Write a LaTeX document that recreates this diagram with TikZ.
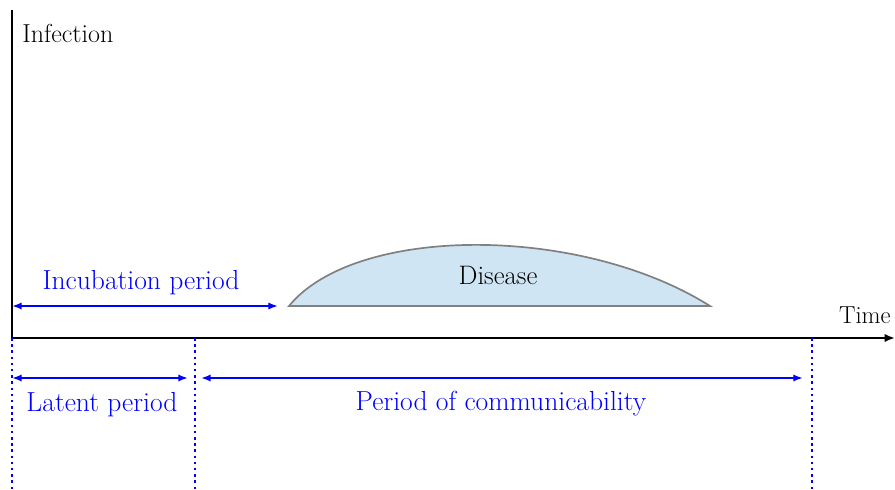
\documentclass[tikz,border=0pt]{standalone}
\usetikzlibrary{arrows.meta,positioning,calc}
\definecolor{Span}{HTML}{0000FF}
\definecolor{DiseaseFill}{HTML}{D0E5F3}
\definecolor{DiseaseLine}{HTML}{808080}
\tikzset{
  axis/.style={draw=black,line width=1.5pt},
  axisarrow/.style={axis,-{Latex[length=2.6mm,width=2.1mm]}},
  span/.style={{Latex[length=2.4mm,width=1.8mm]}-{Latex[length=2.4mm,width=1.8mm]},draw=Span,line width=1.4pt},
  guide/.style={draw=Span,line width=1.5pt,dash pattern=on 1.8pt off 2.6pt},
  axislabel/.style={font=\fontsize{18.5}{20}\selectfont,text=black,inner sep=0pt},
  spanlabel/.style={font=\fontsize{19.6}{22}\selectfont,text=Span,inner sep=0pt},
  disease/.style={draw=DiseaseLine,fill=DiseaseFill,line width=1.2pt}
}
\begin{document}
\begin{tikzpicture}[x=0.025cm,y=-0.025cm]
  \useasboundingbox (0,0) rectangle (895,489);

  % axes
  \coordinate (origin) at (12,338);
  \coordinate (ytop) at (12,10);
  \coordinate (xend) at (895,338);
  \draw[axis] (ytop) -- (origin);
  \draw[axisarrow] (origin) -- (xend);
  \node[axislabel,anchor=west] (infection) at (22,33) {Infection};
  \node[axislabel,anchor=east,font=\fontsize{17.5}{19}\selectfont] (time) at (891,315) {Time};

  % disease curve
  \coordinate (dleft) at (289,306);
  \coordinate (dright) at (710,306);
  \draw[disease] (dleft) .. controls (355,225) and (580,224) .. (dright) -- cycle;
  \node[axislabel,font=\fontsize{19}{20}\selectfont] (disease) at (498,275) {Disease};

  % guides
  \coordinate (g0) at (12,338);   \coordinate (g0b) at (12,489);
  \coordinate (g1) at (195,338);  \coordinate (g1b) at (195,489);
  \coordinate (g2) at (812,338);  \coordinate (g2b) at (812,489);
  \draw[guide] (g0) -- (g0b);
  \draw[guide] (g1) -- (g1b);
  \draw[guide] (g2) -- (g2b);

  % periods
  \coordinate (inca) at (12,306);  \coordinate (incb) at (278,306);
  \draw[span] (inca) -- (incb);
  \node[spanlabel] (incubation) at (141,283) {Incubation period};

  \coordinate (lata) at (12,378);  \coordinate (latb) at (188,378);
  \draw[span] (lata) -- (latb);
  \node[spanlabel] (latent) at (102,405) {Latent period};

  \coordinate (coma) at (201,378); \coordinate (comb) at (803,378);
  \draw[span] (coma) -- (comb);
  \node[spanlabel] (communicability) at (501,404) {Period of communicability};
\end{tikzpicture}
\end{document}
